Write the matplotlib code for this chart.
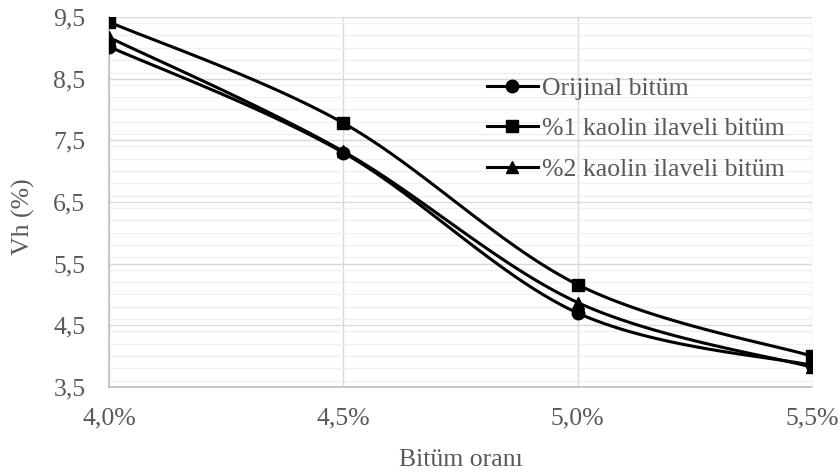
import numpy as np
import matplotlib.pyplot as plt
from matplotlib.ticker import MultipleLocator, FuncFormatter

# bitumen content (%) and air voids Vh (%)
bitum = [4.0, 4.5, 5.0, 5.5]
orijinal = [9.02, 7.30, 4.70, 3.85]
kaolin1 = [9.42, 7.78, 5.16, 4.00]
kaolin2 = [9.17, 7.32, 4.87, 3.82]

series = [
    ('Orijinal bitüm', orijinal, 'o'),
    ('%1 kaolin ilaveli bitüm', kaolin1, 's'),
    ('%2 kaolin ilaveli bitüm', kaolin2, '^'),
]

plt.rcParams['font.family'] = ['Liberation Serif', 'DejaVu Serif']
FS = 18.5
GREY = '#595959'


def smooth(x, y, n=40, sx=1.5, sy=6.0 / 0.53):
    # Catmull-Rom style bezier smoothing (like spreadsheet smoothed lines)
    p = np.column_stack([np.asarray(x) / sx, np.asarray(y) / sy])
    p = np.vstack([p[0], p, p[-1]])
    out = []
    t = np.linspace(0, 1, n)[:, None]
    for i in range(1, len(p) - 2):
        p0, p1, p2, p3 = p[i - 1], p[i], p[i + 1], p[i + 2]
        c1 = p1 + (p2 - p0) / 6
        c2 = p2 - (p3 - p1) / 6
        seg = ((1 - t) ** 3) * p1 + 3 * ((1 - t) ** 2) * t * c1 + 3 * (1 - t) * t ** 2 * c2 + t ** 3 * p2
        out.append(seg if i == 1 else seg[1:])
    out = np.vstack(out)
    return out[:, 0] * sx, out[:, 1] * sy


fig = plt.figure(figsize=(8.4, 4.73), dpi=100)
ax = fig.add_axes([109 / 840, 1 - 387 / 473, 703 / 840, 370 / 473])

for label, vals, m in series:
    xs, ys = smooth(bitum, vals)
    ax.plot(xs, ys, color='black', lw=2.2, zorder=3)
    ax.plot(bitum, vals, linestyle='none', marker=m, color='black', markersize=9, zorder=4)
    ax.plot([], [], color='black', lw=2.2, marker=m, markersize=9, label=label)

ax.set_xlim(4.0, 5.5)
ax.set_ylim(3.5, 9.5)
ax.xaxis.set_major_locator(MultipleLocator(0.5))
ax.yaxis.set_minor_locator(MultipleLocator(0.2))
ax.set_yticks(np.arange(3.5, 9.6, 1.0))
ax.xaxis.set_major_formatter(FuncFormatter(lambda v, _: f'{v:.1f}%'.replace('.', ',')))
ax.yaxis.set_major_formatter(FuncFormatter(lambda v, _: f'{v:.1f}'.replace('.', ',')))

ax.grid(True, which='major', color='#d9d9d9', lw=1.0, zorder=0)
ax.grid(True, which='minor', axis='y', color='#f0f0f0', lw=1.0, zorder=0)
ax.set_axisbelow(True)
for s in ['top', 'right']:
    ax.spines[s].set_visible(False)
for s in ['left', 'bottom']:
    ax.spines[s].set_color('#bfbfbf')
    ax.spines[s].set_linewidth(1.2)
ax.tick_params(which='both', length=0, labelsize=FS, colors=GREY)
ax.tick_params(axis='x', pad=15)
ax.tick_params(axis='y', pad=17)

ax.set_xlabel('Bitüm oranı', fontsize=FS, color=GREY, va='center')
ax.set_ylabel('Vh (%)', fontsize=FS, color=GREY, va='center')
ax.xaxis.set_label_coords(0.5, -0.197)
ax.yaxis.set_label_coords(-0.122, 0.46)

ax.legend(loc='upper left', bbox_to_anchor=(0.537, 0.839), frameon=False, fontsize=FS,
          borderpad=0, borderaxespad=0, handlelength=2.0, handletextpad=0.15,
          labelspacing=0.69, labelcolor=GREY)

fig.savefig('out.png', dpi=100)
